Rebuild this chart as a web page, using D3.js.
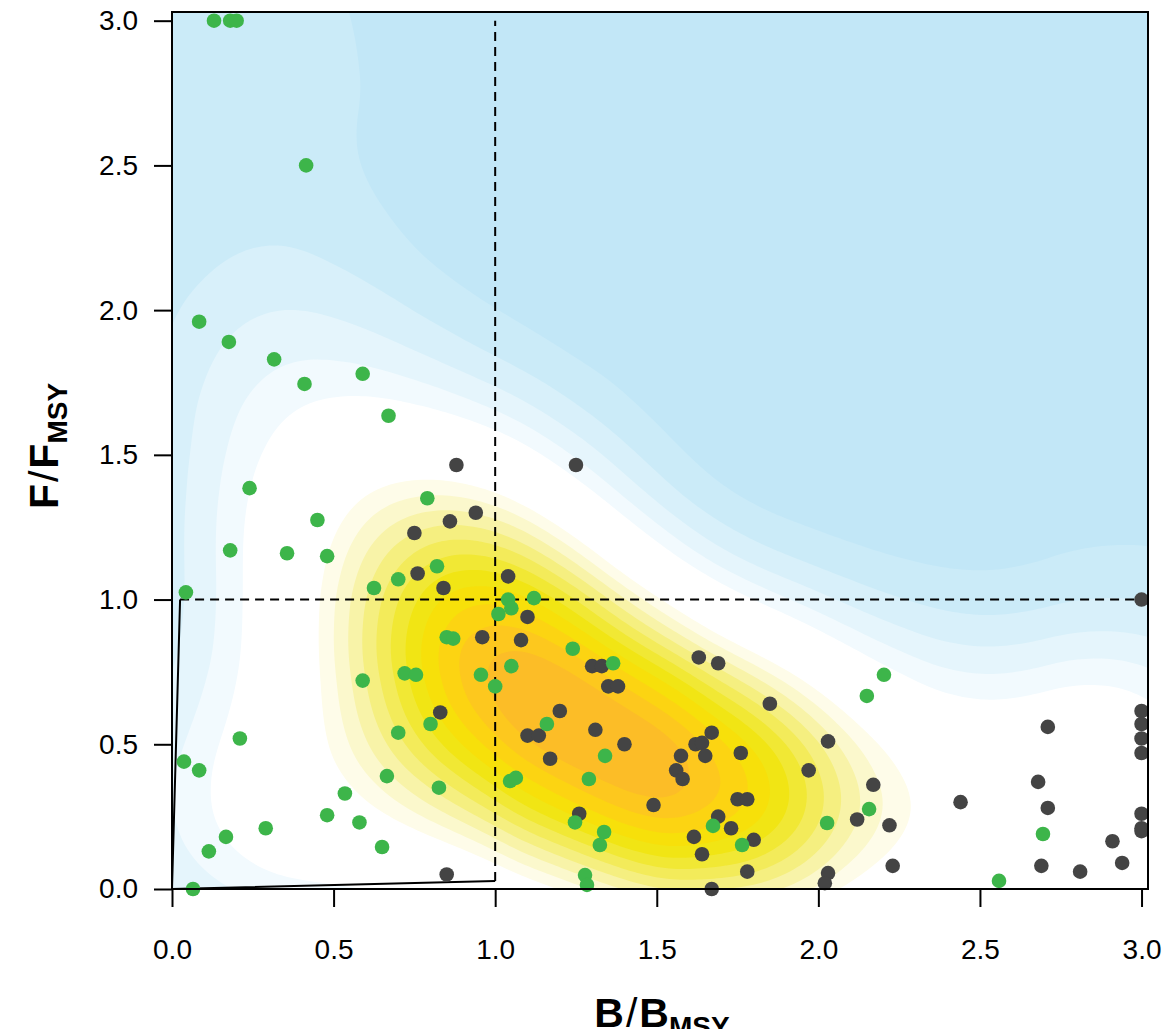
<!DOCTYPE html>
<html><head><meta charset="utf-8">
<script src="https://cdn.jsdelivr.net/npm/d3@7"></script>
<style>body{margin:0;background:#fff}svg{display:block}</style>
</head><body>
<svg id="chart" width="1168" height="1029"></svg>
<script>
// ---------------- data ----------------
const greenPoints = [
 [0.13,3.0],[0.18,3.0],[0.20,3.0],[0.415,2.50],[0.084,1.96],[0.176,1.89],[0.316,1.83],[0.41,1.745],
 [0.59,1.78],[0.67,1.635],[0.24,1.385],[0.45,1.275],[0.79,1.35],[0.18,1.17],[0.356,1.16],[0.48,1.15],
 [0.625,1.04],[0.70,1.07],[0.82,1.115],[0.043,1.025],[0.85,0.87],[0.87,0.865],[0.59,0.72],[0.72,0.745],
 [0.755,0.74],[0.956,0.74],[1.0,0.70],[0.80,0.57],[0.70,0.54],[0.21,0.52],[0.037,0.44],[0.084,0.41],
 [0.665,0.39],[0.826,0.35],[0.535,0.33],[0.48,0.255],[0.58,0.23],[0.29,0.21],[0.65,0.145],[0.167,0.18],
 [0.114,0.13],[0.065,0.0],[1.04,1.0],[1.05,0.97],[1.12,1.005],[1.01,0.95],[1.24,0.83],[1.365,0.78],
 [1.05,0.77],[1.16,0.57],[1.34,0.46],[1.046,0.373],[1.064,0.384],[1.29,0.38],[1.247,0.23],[1.337,0.197],
 [1.324,0.152],[1.674,0.218],[1.764,0.152],[1.278,0.048],[1.284,0.014],[2.027,0.228],[2.203,0.74],
 [2.15,0.667],[2.157,0.276],[2.695,0.19],[2.559,0.028]
];
const grayPoints = [
 [0.88,1.465],[0.94,1.30],[0.86,1.27],[0.75,1.23],[0.76,1.09],[0.84,1.04],[1.04,1.08],[0.96,0.87],
 [0.83,0.61],[0.85,0.05],[1.25,1.465],[1.10,0.94],[1.08,0.86],[1.63,0.80],[1.69,0.78],[1.30,0.77],
 [1.33,0.77],[1.35,0.70],[1.38,0.70],[1.85,0.64],[1.20,0.615],[1.10,0.53],[1.135,0.53],[1.31,0.55],
 [1.40,0.50],[1.17,0.45],[1.67,0.54],[1.62,0.50],[1.64,0.505],[1.575,0.46],[1.65,0.46],[1.76,0.47],
 [1.56,0.41],[1.58,0.38],[2.03,0.51],[1.97,0.41],[1.49,0.29],[1.75,0.31],[1.78,0.31],[1.26,0.26],
 [1.69,0.25],[1.73,0.21],[1.615,0.18],[1.80,0.17],[1.64,0.12],[1.78,0.06],[1.67,0.0],[2.03,0.055],
 [2.02,0.02],[3.0,1.0],[2.17,0.36],[2.12,0.24],[2.22,0.22],[2.23,0.08],[2.44,0.30],[2.71,0.56],
 [2.68,0.37],[2.71,0.28],[2.69,0.08],[2.81,0.06],[2.91,0.165],[2.94,0.09],[3.0,0.615],[3.0,0.57],
 [3.0,0.52],[3.0,0.47],[3.0,0.26],[3.0,0.21],[3.0,0.20]
];
const xTicks = [0, 0.5, 1, 1.5, 2, 2.5, 3];
const yTicks = [0, 0.5, 1, 1.5, 2, 2.5, 3];
const dashedLines = [ [[0.025,1],[3,1]], [[1,0.028],[1,3]] ];
const solidLine = [[0.025,1],[0,0],[1,0.028]];
// density bands (equal steps of the max), low -> high: blue, white, yellow, orange
const bandColors = ["#c2e7f7","#cbebf8","#d8f0fa","#e5f5fc","#f2fafe",
  "#ffffff","#ffffff","#ffffff","#ffffff",
  "#fefce9","#fbf8cc","#f8f3a8","#f5ef80","#f3eb5a","#f1e834","#f1e514","#f7e00a","#fcd412","#fdc81e","#fcbd27"];

// ---------------- layout ----------------
const svg = d3.select("#chart");
const L = 172, R = 1148, T = 12, B = 889;
const x = d3.scaleLinear().domain([0, 3.02]).range([L, R]);
const y = d3.scaleLinear().domain([0, 3.03]).range([B, T]);

svg.append("defs").append("clipPath").attr("id","clip")
  .append("rect").attr("x",L).attr("y",T).attr("width",R-L).attr("height",B-T);
const plot = svg.append("g").attr("clip-path","url(#clip)");
const path = d3.geoPath();

// density of all points
plot.append("rect").attr("x",L).attr("y",T).attr("width",R-L).attr("height",B-T).attr("fill",bandColors[0]);
const allPts = greenPoints.concat(grayPoints);
const dens = d3.contourDensity().x(d=>x(d[0])).y(d=>y(d[1])).size([1168,1029]).cellSize(4).bandwidth(90);
const contours = dens.contours(allPts);
const nb = bandColors.length;
for (let k = 1; k < nb; k++) {
  if (bandColors[k] === bandColors[k-1]) continue;
  plot.append("path").attr("d", path(contours(contours.max * k / nb))).attr("fill", bandColors[k]);
}

// reference lines
const line = d3.line().x(d=>x(d[0])).y(d=>y(d[1]));
dashedLines.forEach(l=>{
  svg.append("path").attr("d",line(l)).attr("fill","none").attr("stroke","#000")
    .attr("stroke-width",2).attr("stroke-dasharray","9,6");
});
svg.append("path").attr("d",line(solidLine)).attr("fill","none").attr("stroke","#000").attr("stroke-width",2);

// points
svg.append("g").selectAll("circle").data(grayPoints).join("circle")
  .attr("cx",d=>x(d[0])).attr("cy",d=>y(d[1])).attr("r",7.3).attr("fill","#444444");
svg.append("g").selectAll("circle").data(greenPoints).join("circle")
  .attr("cx",d=>x(d[0])).attr("cy",d=>y(d[1])).attr("r",7.3).attr("fill","#3db54a");

// frame
svg.append("rect").attr("x",L).attr("y",T).attr("width",R-L).attr("height",B-T)
  .attr("fill","none").attr("stroke","#000").attr("stroke-width",2);

// axes
const fmt = d3.format(".1f");
const xAxis = svg.append("g").attr("transform",`translate(0,${B})`)
  .call(d3.axisBottom(x).tickValues(xTicks).tickFormat(fmt).tickSize(18).tickPadding(32));
const yAxis = svg.append("g").attr("transform",`translate(${L},0)`)
  .call(d3.axisLeft(y).tickValues(yTicks).tickFormat(fmt).tickSize(18).tickPadding(16));
[xAxis,yAxis].forEach(a=>{
  a.select(".domain").remove();
  a.selectAll(".tick line").attr("stroke","#000").attr("stroke-width",2);
  a.selectAll("text").attr("font-family","Liberation Sans, Arial, sans-serif").attr("font-size",28).attr("fill","#000");
});
svg.append("line").attr("x1",x(0)).attr("x2",x(3)).attr("y1",B).attr("y2",B).attr("stroke","#000").attr("stroke-width",2);
svg.append("line").attr("x1",L).attr("x2",L).attr("y1",y(0)).attr("y2",y(3)).attr("stroke","#000").attr("stroke-width",2);

// axis titles
function title(g, main){
  const t = g.append("text").attr("font-family","Liberation Sans, Arial, sans-serif").attr("fill","#000").attr("text-anchor","middle");
  t.append("tspan").attr("font-weight","bold").attr("font-size",41).text(main);
  t.append("tspan").attr("font-size",41).attr("dx",2).text("/");
  t.append("tspan").attr("font-weight","bold").attr("font-size",41).attr("dx",2).text(main);
  t.append("tspan").attr("font-weight","bold").attr("font-size",28).attr("dy",9).text("MSY");
  return t;
}
title(svg.append("g").attr("transform","translate(662,1027)"), "B");
title(svg.append("g").attr("transform","translate(58,446) rotate(-90)"), "F");
</script>
</body></html>
